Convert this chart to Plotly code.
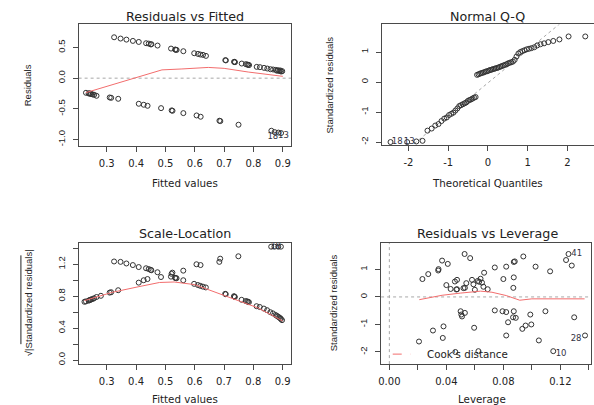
import plotly.graph_objects as go

W, H = 594, 405

# ---------------- Panel 1: Residuals vs Fitted ----------------
rf_fitted = [0.325, 0.347, 0.367, 0.389, 0.409, 0.434, 0.443, 0.452, 0.450, 0.473,
             0.519, 0.533, 0.535, 0.538, 0.561, 0.598, 0.611, 0.619, 0.628, 0.638,
             0.704, 0.706, 0.734, 0.735, 0.737, 0.760, 0.774, 0.779, 0.782, 0.785,
             0.811, 0.822, 0.836, 0.847, 0.858, 0.867, 0.876, 0.880, 0.884, 0.888,
             0.892, 0.894, 0.898,
             0.229, 0.238, 0.241, 0.244, 0.247, 0.252, 0.257, 0.265, 0.310, 0.315,
             0.339, 0.409, 0.426, 0.439, 0.485, 0.521, 0.524, 0.561, 0.606, 0.620,
             0.684, 0.687, 0.749, 0.861, 0.872, 0.885, 0.894]
rf_resid = [0.666, 0.645, 0.628, 0.607, 0.590, 0.569, 0.563, 0.553, 0.550, 0.531,
            0.482, 0.466, 0.463, 0.460, 0.439, 0.406, 0.395, 0.385, 0.379, 0.363,
            0.293, 0.290, 0.266, 0.265, 0.260, 0.238, 0.228, 0.221, 0.217, 0.213,
            0.184, 0.179, 0.168, 0.157, 0.146, 0.141, 0.135, 0.121, 0.130, 0.117,
            0.125, 0.108, 0.114,
            -0.238, -0.249, -0.246, -0.255, -0.257, -0.265, -0.271, -0.287, -0.314, -0.320,
            -0.336, -0.417, -0.433, -0.450, -0.488, -0.525, -0.531, -0.569, -0.607, -0.628,
            -0.693, -0.699, -0.758, -0.856, -0.878, -0.886, -0.894]
rf_smooth_x = [0.229, 0.300, 0.400, 0.488, 0.556, 0.646, 0.700, 0.782, 0.900]
rf_smooth_y = [-0.235, -0.134, 0.010, 0.135, 0.150, 0.175, 0.160, 0.100, 0.030]
rf_label_x = [0.866, 0.902]
rf_label_y = [-0.950, -0.940]
rf_labels = ["18", "13"]

# ---------------- Panel 2: Normal Q-Q ----------------
qq_theoretical = [-2.45, -2.03, -1.80, -1.645, -1.52, -1.415, -1.324, -1.242, -1.168, -1.099,
                  -1.036, -0.977, -0.921, -0.867, -0.817, -0.768, -0.720, -0.674, -0.630, -0.587,
                  -0.545, -0.504, -0.464, -0.424, -0.385, -0.347, -0.309, -0.272, -0.235, -0.198,
                  -0.162, -0.126, -0.090, -0.054, -0.018, 0.018, 0.054, 0.090, 0.126, 0.162,
                  0.198, 0.235, 0.272, 0.309, 0.347, 0.385, 0.424, 0.464, 0.504, 0.545,
                  0.587, 0.630, 0.674, 0.720, 0.768, 0.817, 0.867, 0.921, 0.977, 1.036,
                  1.099, 1.168, 1.242, 1.324, 1.415, 1.52, 1.645, 1.80, 2.03, 2.45]
qq_sample = [-2.00, -2.00, -1.98, -1.96, -1.62, -1.55, -1.45, -1.40, -1.30, -1.22,
             -1.18, -1.10, -1.06, -1.02, -0.95, -0.88, -0.80, -0.77, -0.74, -0.71,
             -0.68, -0.63, -0.60, -0.58, -0.55, -0.52, -0.50, 0.24, 0.26, 0.28,
             0.30, 0.31, 0.33, 0.35, 0.36, 0.38, 0.40, 0.41, 0.43, 0.44,
             0.46, 0.47, 0.49, 0.51, 0.53, 0.55, 0.57, 0.59, 0.62, 0.64,
             0.66, 0.68, 0.74, 0.85, 0.95, 1.00, 1.03, 1.06, 1.09, 1.11,
             1.13, 1.16, 1.22, 1.26, 1.29, 1.33, 1.37, 1.42, 1.52, 1.52]
qq_ref_intercept = -0.03
qq_ref_slope = 1.09
qq_label_x = [-2.28, -1.98]
qq_label_y = [-2.00, -2.00]
qq_labels = ["18", "13"]

# ---------------- Panel 3: Scale-Location ----------------
sl_fitted = [0.224, 0.229, 0.238, 0.241, 0.244, 0.247, 0.252, 0.257, 0.265, 0.280,
             0.310, 0.315, 0.339, 0.409, 0.426, 0.439, 0.485, 0.521, 0.524, 0.561,
             0.606, 0.620, 0.684, 0.687, 0.749, 0.861, 0.872, 0.885, 0.894,
             0.325, 0.347, 0.367, 0.389, 0.409, 0.434, 0.443, 0.450, 0.452, 0.473,
             0.519, 0.533, 0.535, 0.538, 0.561, 0.598, 0.611, 0.619, 0.628, 0.638,
             0.704, 0.706, 0.734, 0.735, 0.737, 0.760, 0.774, 0.779, 0.782, 0.785,
             0.811, 0.822, 0.836, 0.847, 0.858, 0.867, 0.876, 0.880, 0.884, 0.888,
             0.892, 0.894, 0.898]
sl_sqrt_std = [0.730, 0.735, 0.745, 0.750, 0.755, 0.760, 0.765, 0.775, 0.790, 0.805,
               0.845, 0.850, 0.875, 0.970, 1.000, 1.015, 1.040, 1.080, 1.095, 1.120,
               1.200, 1.190, 1.230, 1.270, 1.300, 1.420, 1.420, 1.420, 1.420,
               1.235, 1.230, 1.210, 1.190, 1.165, 1.150, 1.140, 1.130, 1.125, 1.100,
               1.045, 1.030, 1.028, 1.025, 1.000, 0.955, 0.940, 0.930, 0.920, 0.910,
               0.830, 0.825, 0.800, 0.795, 0.790, 0.755, 0.740, 0.735, 0.730, 0.725,
               0.675, 0.665, 0.645, 0.625, 0.600, 0.585, 0.565, 0.555, 0.545, 0.535,
               0.525, 0.515, 0.500]
sl_smooth_x = [0.224, 0.320, 0.410, 0.480, 0.530, 0.567, 0.600, 0.700, 0.815, 0.900]
sl_smooth_y = [0.745, 0.850, 0.920, 0.972, 0.978, 0.965, 0.945, 0.810, 0.655, 0.490]
sl_label_x = [0.876]
sl_label_y = [1.42]
sl_labels = ["18"]

# ---------------- Panel 4: Residuals vs Leverage ----------------
lv_leverage = [0.0232, 0.0273, 0.0343, 0.0345, 0.0370, 0.0410, 0.0400, 0.0430, 0.0460, 0.0475,
               0.0470, 0.0475, 0.0520, 0.0530, 0.0528, 0.0567, 0.0540, 0.0580, 0.0590, 0.0600,
               0.0620, 0.0640, 0.0630, 0.0650, 0.0660, 0.0665, 0.0690, 0.0740, 0.0800, 0.0820,
               0.0873, 0.0880, 0.0873, 0.0870, 0.0940, 0.1026, 0.1128, 0.1240, 0.1257, 0.1280,
               0.0208, 0.0306, 0.0380, 0.0375, 0.0463, 0.0500, 0.0505, 0.0510, 0.0530, 0.0595,
               0.0625, 0.0740, 0.0794, 0.0820, 0.0873, 0.0833, 0.0868, 0.0887, 0.0820, 0.0933,
               0.0956, 0.0996, 0.0989, 0.1095, 0.1049, 0.1150, 0.1297, 0.1373]
lv_std_resid = [0.65, 0.83, 0.96, 1.01, 1.32, 1.20, 0.43, 0.29, 0.56, 0.62,
                0.27, 0.28, 0.32, 0.33, 1.56, 1.41, 0.50, 0.62, 0.46, 0.26,
                0.58, 0.66, 0.55, 0.52, 0.37, 0.88, 0.28, 1.07, 0.65, 1.10,
                1.27, 1.29, 0.71, 0.33, 1.47, 1.10, 0.93, 1.34, 1.56, 1.14,
                -1.62, -1.22, -1.07, -1.49, -2.00, -0.52, -0.64, -0.71, -0.58, -1.12,
                -1.97, -0.49, -0.52, -0.55, -0.52, -0.92, -0.74, -0.76, -1.40, -1.16,
                -1.04, -1.00, -0.64, -0.52, -1.58, -1.97, -0.74, -1.40]
lv_smooth_x = [0.021, 0.037, 0.050, 0.064, 0.072, 0.082, 0.0915, 0.100, 0.137]
lv_smooth_y = [-0.10, 0.06, 0.14, 0.21, 0.17, 0.05, -0.12, -0.07, -0.07]
lv_label_x = [0.1315, 0.1310, 0.1205]
lv_label_y = [1.55, -1.51, -2.08]
lv_labels = ["41", "28", "10"]

# ---------------- styling helpers ----------------
HFONT = "DejaVu Sans"
VFONT = "Liberation Sans, Arial"
TXT = "#222222"
LINE = "#4a4a4a"
PT = "#333333"
RED = "#f26d6d"
REF = "#a8a8a8"


def fx(px):
    return px / W


def fy(py):
    return 1 - py / H


boxes = {
    1: (76, 289.5, 24.5, 146.7),
    2: (380.7, 594, 24.5, 145.7),
    3: (76, 289.3, 243.3, 365),
    4: (380, 591, 243.3, 365),
}


def xax(n, rng, tickvals, ticktext):
    x0, x1, y0, y1 = boxes[n]
    return dict(domain=[fx(x0), fx(x1)], range=rng, anchor="y%d" % n if n > 1 else "y",
                showline=True, mirror=True, linecolor=LINE, linewidth=1,
                ticks="outside", ticklen=5, tickwidth=1, tickcolor=LINE,
                tickvals=tickvals, ticktext=ticktext, showgrid=False, zeroline=False,
                tickfont=dict(family=HFONT, size=10, color=TXT), ticklabelstandoff=3)


def yax(n, rng, tickvals, ticktext, mirror=True):
    x0, x1, y0, y1 = boxes[n]
    return dict(domain=[fy(y1), fy(y0)], range=rng, anchor="x%d" % n if n > 1 else "x",
                showline=True, mirror=mirror, linecolor=LINE, linewidth=1,
                ticks="outside", ticklen=5, tickwidth=1, tickcolor=LINE,
                tickvals=tickvals, ticktext=ticktext, showgrid=False, zeroline=False,
                tickangle=-90, ticklabelstandoff=4,
                tickfont=dict(family=VFONT, size=9.5, color=TXT))


def ref(n):
    return ("x%d" % n if n > 1 else "x"), ("y%d" % n if n > 1 else "y")


def pts(x, y, n):
    xa, ya = ref(n)
    return go.Scatter(x=x, y=y, mode="markers", xaxis=xa, yaxis=ya, hoverinfo="skip",
                      marker=dict(symbol="circle-open", size=5, color=PT, line=dict(width=1, color=PT)))


def line(x, y, n, color, dash="solid"):
    xa, ya = ref(n)
    return go.Scatter(x=x, y=y, mode="lines", xaxis=xa, yaxis=ya, hoverinfo="skip",
                      line=dict(color=color, width=1, dash=dash))


def labels(x, y, t, n):
    xa, ya = ref(n)
    return go.Scatter(x=x, y=y, text=t, mode="text", xaxis=xa, yaxis=ya, hoverinfo="skip",
                      cliponaxis=False, textposition="middle center",
                      textfont=dict(family=HFONT, size=8.5, color="#333344"))


x1_rng = [0.204, 0.928]
y1_rng = [-1.11, 0.875]
x2_rng = [-2.67, 2.67]
y2_rng = [-2.11, 1.92]
x3_rng = [0.204, 0.928]
y3_rng = [-0.05, 1.47]
x4_rng = [-0.0058, 0.1415]
y4_rng = [-2.44, 1.97]

traces = [
    line(x1_rng, [0, 0], 1, REF, "dot"),
    pts(rf_fitted, rf_resid, 1),
    line(rf_smooth_x, rf_smooth_y, 1, RED),
    labels(rf_label_x, rf_label_y, rf_labels, 1),
    line(x2_rng, [qq_ref_intercept + qq_ref_slope * v for v in x2_rng], 2, REF, "dot"),
    pts(qq_theoretical, qq_sample, 2),
    labels(qq_label_x, qq_label_y, qq_labels, 2),
    pts(sl_fitted, sl_sqrt_std, 3),
    line(sl_smooth_x, sl_smooth_y, 3, RED),
    labels(sl_label_x, sl_label_y, sl_labels, 3),
    line(x4_rng, [0, 0], 4, REF, "dot"),
    line([0, 0], y4_rng, 4, REF, "dot"),
    pts(lv_leverage, lv_std_resid, 4),
    line(lv_smooth_x, lv_smooth_y, 4, RED),
    labels(lv_label_x, lv_label_y, lv_labels, 4),
]

fig = go.Figure(traces)


def ann(text, px, py, size, angle=0, family=HFONT, xanchor="center"):
    return dict(text=text, x=fx(px), y=fy(py), xref="paper", yref="paper", showarrow=False,
                xanchor=xanchor, yanchor="middle", textangle=angle,
                font=dict(family=family, size=size, color=TXT))


annotations = [
    ann("Residuals vs Fitted", 182.7, 16.7, 12.7),
    ann("Normal Q-Q", 487.3, 16.7, 12.7),
    ann("Scale-Location", 182.7, 234.3, 12.7),
    ann("Residuals vs Leverage", 486.7, 234.3, 12.7),
    ann("Fitted values", 182.7, 183.3, 10.3),
    ann("Theoretical Quantiles", 486.7, 183.3, 10.3),
    ann("Fitted values", 182.7, 400.0, 10.3),
    ann("Leverage", 481.7, 400.0, 10.3),
    ann("Residuals", 25, 85.6, 9.5, angle=-90, family=VFONT),
    ann("Standardized residuals", 328.3, 85.1, 9.5, angle=-90, family=VFONT),
    ann("√|Standardized residuals|", 25, 303, 9.5, angle=-90, family=VFONT),
    ann("Standardized residuals", 331.7, 304, 9.5, angle=-90, family=VFONT),
    ann("Cook's distance", 424, 355, 10.3, xanchor="left"),
]

shapes = [
    # overline of the square-root sign
    dict(type="line", xref="paper", yref="paper", x0=fx(18), x1=fx(18), y0=fy(256), y1=fy(345),
         line=dict(color=TXT, width=1)),
    # legend key
    dict(type="line", xref="paper", yref="paper", x0=fx(391.7), x1=fx(410), y0=fy(355), y1=fy(355),
         line=dict(color=RED, width=1, dash="dash")),
]

fig.update_layout(
    width=W, height=H, margin=dict(l=0, r=0, t=0, b=0),
    paper_bgcolor="white", plot_bgcolor="white", showlegend=False,
    xaxis=xax(1, x1_rng, [0.3, 0.4, 0.5, 0.6, 0.7, 0.8, 0.9], ["0.3", "0.4", "0.5", "0.6", "0.7", "0.8", "0.9"]),
    yaxis=yax(1, y1_rng, [-1.0, -0.5, 0.0, 0.5], ["-1.0", "-0.5", "0.0", "0.5"]),
    xaxis2=xax(2, x2_rng, [-2, -1, 0, 1, 2], ["-2", "-1", "0", "1", "2"]),
    yaxis2=yax(2, y2_rng, [-2, -1, 0, 1], ["-2", "-1", "0", "1"], mirror=False),
    xaxis3=xax(3, x3_rng, [0.3, 0.4, 0.5, 0.6, 0.7, 0.8, 0.9], ["0.3", "0.4", "0.5", "0.6", "0.7", "0.8", "0.9"]),
    yaxis3=yax(3, y3_rng, [0.0, 0.2, 0.4, 0.6, 0.8, 1.0, 1.2, 1.4], ["0.0", "", "0.4", "", "0.8", "", "1.2", ""]),
    xaxis4=xax(4, x4_rng, [0.0, 0.02, 0.04, 0.06, 0.08, 0.10, 0.12, 0.14],
               ["0.00", "", "0.04", "", "0.08", "", "0.12", ""]),
    yaxis4=yax(4, y4_rng, [-2, -1, 0, 1], ["-2", "-1", "0", "1"]),
    annotations=annotations, shapes=shapes,
)

fig.write_html("out.html", config={"displayModeBar": False},
               post_script="document.body.style.margin='0';document.body.style.padding='0';"
                           "document.body.style.overflow='hidden';")
